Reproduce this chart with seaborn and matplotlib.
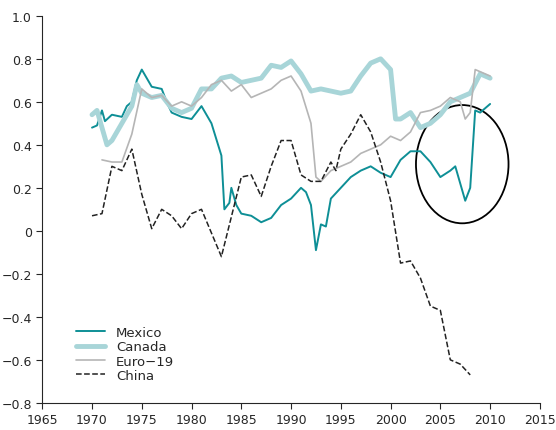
import matplotlib
matplotlib.use("Agg")
import matplotlib.pyplot as plt
import seaborn as sns
import pandas as pd
from matplotlib.patches import Ellipse

china_x = [1970,1971,1972,1973,1974,1975,1976,1977,1978,1979,1980,1981,1983,1985,1986,1987,1988,1989,1990,1991,1992,1993,1994,1994.5,1995,1996,1997,1998,1999,2000,2001,2002,2003,2004,2005,2006,2007,2008]
china_y = [0.07,0.08,0.30,0.28,0.38,0.17,0.01,0.10,0.07,0.01,0.08,0.10,-0.12,0.25,0.26,0.16,0.30,0.42,0.42,0.26,0.23,0.23,0.32,0.28,0.38,0.45,0.54,0.46,0.32,0.14,-0.15,-0.14,-0.22,-0.35,-0.37,-0.60,-0.62,-0.67]

mex_x = [1970,1970.5,1971,1971.3,1972,1973,1973.5,1974,1974.5,1975,1975.5,1976,1977,1977.5,1978,1979,1980,1980.5,1981,1982,1983,1983.3,1983.8,1984,1984.5,1985,1986,1987,1988,1989,1990,1991,1991.5,1992,1992.5,1993,1993.5,1994,1995,1996,1997,1998,1999,2000,2001,2002,2003,2004,2005,2006,2006.5,2007.5,2008,2008.5,2009,2010]
mex_y = [0.48,0.49,0.56,0.51,0.54,0.53,0.58,0.60,0.70,0.75,0.71,0.67,0.66,0.60,0.55,0.53,0.52,0.55,0.58,0.50,0.35,0.10,0.13,0.20,0.12,0.08,0.07,0.04,0.06,0.12,0.15,0.20,0.18,0.12,-0.09,0.03,0.02,0.15,0.20,0.25,0.28,0.30,0.27,0.25,0.33,0.37,0.37,0.32,0.25,0.28,0.30,0.14,0.20,0.56,0.55,0.59]

can_x = [1970,1970.5,1971,1971.5,1972,1973,1974,1974.5,1975,1976,1977,1978,1979,1980,1981,1982,1983,1984,1985,1986,1987,1988,1989,1990,1991,1992,1993,1994,1995,1996,1997,1998,1999,2000,2000.5,2001,2002,2003,2004,2005,2006,2007,2008,2009,2010]
can_y = [0.54,0.56,0.48,0.40,0.42,0.50,0.58,0.68,0.64,0.62,0.63,0.57,0.55,0.57,0.66,0.66,0.71,0.72,0.69,0.70,0.71,0.77,0.76,0.79,0.73,0.65,0.66,0.65,0.64,0.65,0.72,0.78,0.80,0.75,0.52,0.52,0.55,0.48,0.50,0.54,0.60,0.62,0.64,0.73,0.71]

euro_x = [1971,1972,1973,1974,1975,1976,1977,1978,1979,1980,1981,1982,1983,1984,1985,1986,1987,1988,1989,1990,1991,1992,1992.5,1993,1994,1995,1996,1997,1998,1999,2000,2001,2002,2003,2004,2005,2006,2007,2007.5,2008,2008.5,2010]
euro_y = [0.33,0.32,0.32,0.45,0.66,0.62,0.63,0.58,0.60,0.58,0.62,0.68,0.70,0.65,0.68,0.62,0.64,0.66,0.70,0.72,0.65,0.50,0.25,0.23,0.28,0.30,0.32,0.36,0.38,0.40,0.44,0.42,0.46,0.55,0.56,0.58,0.62,0.60,0.52,0.55,0.75,0.72]

sns.set_style("ticks")
plt.rcParams['font.family'] = ['DejaVu Sans']
fig = plt.figure(figsize=(5.56, 4.31), dpi=100)
ax = fig.add_axes([0.076, 0.063, 0.895, 0.898])

sns.lineplot(x=mex_x, y=mex_y, ax=ax, color="#0e8f96", lw=1.4, label="Mexico")
sns.lineplot(x=can_x, y=can_y, ax=ax, color="#a8d5d8", lw=3.5, label="Canada")
sns.lineplot(x=euro_x, y=euro_y, ax=ax, color="#b5b5b5", lw=1.2, label="Euro\u221219")
sns.lineplot(x=china_x, y=china_y, ax=ax, color="#222222", lw=1.1, ls="--", label="China")
ax.add_patch(Ellipse((2007.2, 0.31), 9.3, 0.55, fill=False, ec="black", lw=1.3))

ax.set_xlim(1965, 2015)
ax.set_ylim(-0.8, 1.0)
ax.set_xticks(range(1965, 2016, 5))
ax.set_yticks([-0.8,-0.6,-0.4,-0.2,0,0.2,0.4,0.6,0.8,1.0])
ax.set_yticklabels(["\u22120.8","\u22120.6","\u22120.4","\u22120.2","0","0.2","0.4","0.6","0.8","1.0"])
ax.tick_params(labelsize=9, length=4)
sns.despine(ax=ax)
ax.legend(loc="lower left", bbox_to_anchor=(0.05, 0.03), frameon=False, fontsize=9.5,
          handlelength=2.2, labelspacing=0.1, borderpad=0.2)
fig.savefig("out.png", dpi=100)
